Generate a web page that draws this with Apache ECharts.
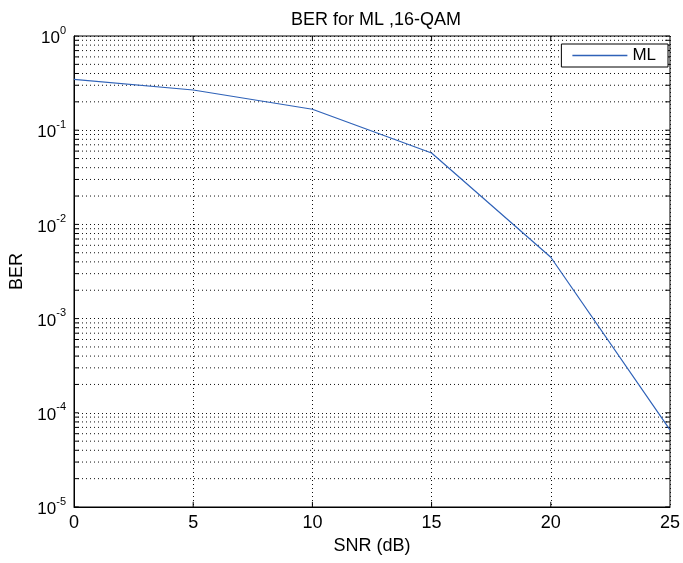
<!DOCTYPE html>
<html>
<head>
<meta charset="utf-8">
<script src="https://cdn.jsdelivr.net/npm/echarts@6/dist/echarts.min.js"></script>
<style>html,body{margin:0;padding:0;background:#fff}#c{width:683px;height:563px}</style>
</head>
<body>
<div id="c"></div>
<script>
const snr = [0, 5, 10, 15, 20, 25];
const berML = [0.347, 0.267, 0.167, 0.0573, 0.00448, 0.000066];
const seriesName = 'ML';
const titleText = 'BER for ML ,16-QAM';
const xName = 'SNR (dB)';
const yName = 'BER';
const decadeExps = [-5, -4, -3, -2, -1];
const majorExps = [-5, -4, -3, -2, -1, 0];
const minorMults = [2, 3, 4, 5, 6, 7, 8, 9];
const xTicks = [5, 10, 15, 20];
const xMin = 0, xMax = 25, yMin = 1e-5, yMax = 1;

const FONT = '"Liberation Sans", Arial, Helvetica, sans-serif';
const GRID_STYLE = { color: '#111', type: [1, 3], width: 1 };
const TICK_STYLE = { color: '#000', width: 1, type: 'solid' };
const TICK_X = 0.2;                 // tick length in x units (~5px)
const TICK_Y = Math.pow(10, 0.055); // tick length in log-y factor (~5px)

const minorValues = [];
decadeExps.forEach(e => minorMults.forEach(k => minorValues.push(k * Math.pow(10, e))));
const majorValues = majorExps.map(e => Math.pow(10, e));

const lineSeg = (data, style, z) => ({
  type: 'line', silent: true, symbol: 'none', z: z, data: data,
  lineStyle: style, tooltip: { show: false }
});

const extra = [];
minorValues.forEach(v => extra.push(lineSeg([[xMin, v], [xMax, v]], GRID_STYLE, 1)));
minorValues.concat(majorValues).forEach(v => {
  extra.push(lineSeg([[xMin, v], [xMin + TICK_X, v]], TICK_STYLE, 2));
  extra.push(lineSeg([[xMax - TICK_X, v], [xMax, v]], TICK_STYLE, 2));
});
xTicks.forEach(x => {
  extra.push(lineSeg([[x, yMax], [x, yMax / TICK_Y]], TICK_STYLE, 2));
  extra.push(lineSeg([[x, yMin], [x, yMin * TICK_Y]], TICK_STYLE, 2));
});

const chart = echarts.init(document.getElementById('c'), null, { renderer: 'canvas' });
chart.setOption({
  animation: false,
  backgroundColor: '#fff',
  title: {
    text: titleText, left: 371, top: 6, textAlign: 'center',
    textStyle: { fontFamily: FONT, fontSize: 18, fontWeight: 'normal', color: '#000' }
  },
  legend: {
    right: 15, top: 44, orient: 'vertical',
    data: [{ name: seriesName, icon: 'rect' }],
    backgroundColor: '#fff', borderColor: '#000', borderWidth: 1,
    padding: [3, 12, 3, 11],
    itemWidth: 55, itemHeight: 1.5, itemGap: 0,
    textStyle: { fontFamily: FONT, fontSize: 17, color: '#000' }
  },
  grid: { left: 74, right: 10, top: 36, bottom: 56, show: true, borderColor: '#000', borderWidth: 1, containLabel: false },
  xAxis: {
    type: 'value', min: xMin, max: xMax, interval: 5,
    name: xName, nameLocation: 'middle', nameGap: 29,
    nameTextStyle: { fontFamily: FONT, fontSize: 18, color: '#000' },
    axisLine: { show: true, lineStyle: { color: '#000', width: 1 } },
    axisTick: { show: false },
    axisLabel: { fontFamily: FONT, fontSize: 18, color: '#000', margin: 7 },
    splitLine: { show: true, lineStyle: GRID_STYLE }
  },
  yAxis: {
    type: 'log', logBase: 10, min: yMin, max: yMax,
    name: yName, nameLocation: 'middle', nameGap: 47, nameRotate: 90,
    nameTextStyle: { fontFamily: FONT, fontSize: 18, color: '#000' },
    axisLine: { show: true, lineStyle: { color: '#000', width: 1 } },
    axisTick: { show: false },
    axisLabel: {
      margin: 8,
      formatter: v => '{b|10}{e|' + Math.round(Math.log10(v)) + '}',
      rich: {
        b: { fontFamily: FONT, fontSize: 17, color: '#000', lineHeight: 22, verticalAlign: 'bottom' },
        e: { fontFamily: FONT, fontSize: 11, color: '#000', lineHeight: 22, verticalAlign: 'top', padding: [0, 0, 14, 0] }
      }
    },
    splitLine: { show: true, lineStyle: GRID_STYLE }
  },
  series: extra.concat([{
    name: seriesName, type: 'line', z: 5,
    data: snr.map((x, i) => [x, berML[i]]),
    symbol: 'none', showSymbol: false,
    lineStyle: { color: '#2f62b8', width: 1.2 },
    itemStyle: { color: '#2f62b8' }
  }])
});
</script>
</body>
</html>
